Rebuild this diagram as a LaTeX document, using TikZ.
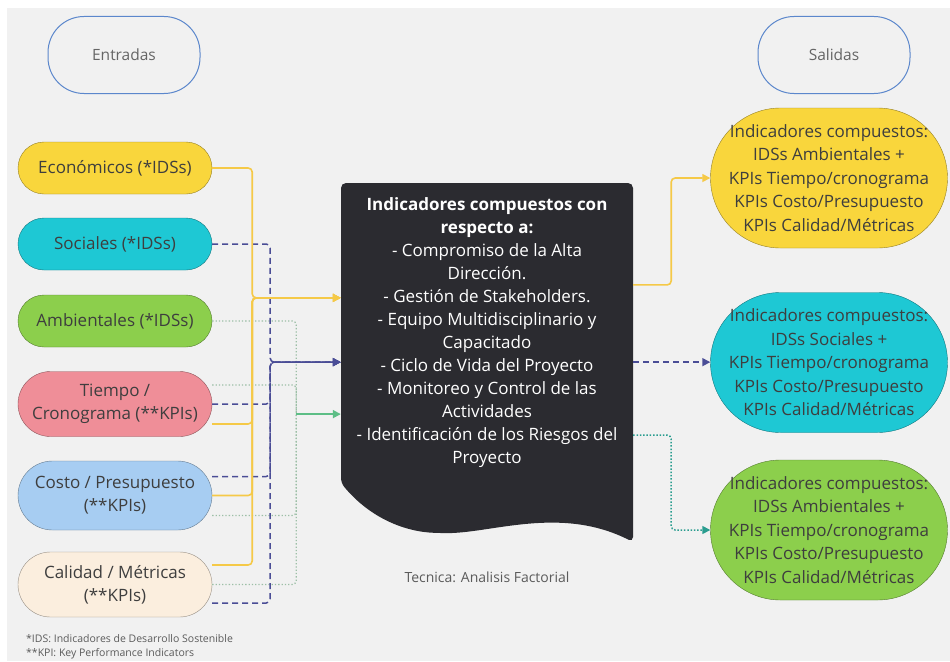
\documentclass[tikz,border=0pt]{standalone}
\usepackage{fontspec}
\setmainfont{Open Sans}
\usetikzlibrary{arrows.meta,calc,positioning}
\definecolor{fondo}{HTML}{F1F1F1}
\definecolor{textoc}{HTML}{3E3E3E}
\definecolor{amarillo}{HTML}{F9D63C}
\definecolor{cian}{HTML}{1EC8D4}
\definecolor{verde}{HTML}{8CCF4C}
\definecolor{rosa}{HTML}{EF8E98}
\definecolor{celeste}{HTML}{A7CDF2}
\definecolor{crema}{HTML}{FBEEDE}
\definecolor{oscuro}{HTML}{2B2B30}
\definecolor{bordeazul}{HTML}{5B87CC}
\definecolor{conamarillo}{HTML}{F5C947}
\definecolor{conazul}{HTML}{4A4D96}
\definecolor{converde}{HTML}{9CBFA6}
\definecolor{flechaverde}{HTML}{5DBE86}
\definecolor{conteal}{HTML}{2A9D8F}
\tikzset{
  entrada/.style n args={2}{draw=#1!60!black,fill=#1,rounded corners=#2,minimum width=194,minimum height=2*#2,
    align=center,text=textoc,font=\fontsize{17}{23}\selectfont},
  salida/.style={draw=#1!60!black,fill=#1,rounded corners=70,minimum width=237,minimum height=140,
    align=center,text=textoc,font=\fontsize{17}{23.5}\selectfont},
  titulo/.style={draw=bordeazul,line width=1,rounded corners=36,minimum width=152,minimum height=77,
    text=textoc!80,font=\fontsize{15.5}{18}\selectfont},
  lineaY/.style={draw=conamarillo,line width=1.6,rounded corners=4,-{Triangle[length=8pt,width=8pt]}},
  lineaB/.style={draw=conazul,line width=1.5,dash pattern=on 6pt off 4pt,rounded corners=4,-{Triangle[length=8pt,width=8pt]}},
  lineaV/.style={draw=converde,line width=1.3,dash pattern=on 1.3pt off 2pt,rounded corners=4},
  lineaT/.style={draw=conteal,line width=1.5,dash pattern=on 1.5pt off 1.8pt,rounded corners=4,-{Triangle[length=8pt,width=8pt]}},
  nota/.style={text=textoc!85,inner sep=0,anchor=west}
}
\begin{document}
\begin{tikzpicture}[x=1pt,y=-1pt]
\useasboundingbox (0,0) rectangle (950,661);
\fill[white] (0,0) rectangle (950,661);\fill[fondo] (7,8) rectangle (950,661);

\node[titulo] (tEnt) at (124,55) {Entradas};
\node[titulo] (tSal) at (834,55) {Salidas};

\node[entrada={amarillo}{26}] (eco) at (115,168) {Económicos (*IDSs)};
\node[entrada={cian}{26}] (soc) at (115,244) {Sociales (*IDSs)};
\node[entrada={verde}{26}] (amb) at (115,321) {Ambientales (*IDSs)};
\node[entrada={rosa}{32.5}] (tie) at (115,404) {Tiempo /\\Cronograma (**KPIs)};
\node[entrada={celeste}{34.5}] (cos) at (115,495.5) {Costo / Presupuesto\\(**KPIs)};
\node[entrada={crema}{32.5}] (cal) at (115,584.5) {Calidad / Métricas\\(**KPIs)};

\fill[oscuro,rounded corners=5] (341,483) -- (341,183) -- (633,183) -- (633,542) .. controls (560,505) and (490,534) .. (440,533) .. controls (405,532) and (370,518) .. (341,483) -- cycle;
\node[minimum width=292,minimum height=300,align=center,text=white,font=\fontsize{17}{23}\selectfont] (centro) at (487,333)
  {\textbf{Indicadores compuestos con}\\\textbf{respecto a:}\\- Compromiso de la Alta\\Dirección.\\- Gestión de Stakeholders.\\
   - Equipo Multidisciplinario y\\Capacitado\\- Ciclo de Vida del Proyecto\\- Monitoreo y Control de las\\Actividades\\
   - Identificación de los Riesgos del\\Proyecto};
\node[text=textoc!85,font=\fontsize{14}{17}\selectfont] (tec) at (487,577) {Tecnica: Analisis Factorial};

\node[salida=amarillo] (sal1) at (829,178) {Indicadores compuestos:\\IDSs Ambientales +\\KPIs Tiempo/cronograma\\KPIs Costo/Presupuesto\\KPIs Calidad/Métricas};
\node[salida=cian] (sal2) at (829,362.5) {Indicadores compuestos:\\IDSs Sociales +\\KPIs Tiempo/cronograma\\KPIs Costo/Presupuesto\\KPIs Calidad/Métricas};
\node[salida=verde] (sal3) at (829,530) {Indicadores compuestos:\\IDSs Ambientales +\\KPIs Tiempo/cronograma\\KPIs Costo/Presupuesto\\KPIs Calidad/Métricas};

\node[nota,font=\fontsize{10.5}{12}\selectfont] (nota1) at (26,639) {*IDS: Indicadores de Desarrollo Sostenible};
\node[nota,font=\fontsize{10.5}{12}\selectfont] (nota2) at (26,654) {**KPI: Key Performance Indicators};

\coordinate (entY) at ($(centro.north west)!0.383!(centro.south west)$);
\coordinate (entB) at ($(centro.north west)!0.597!(centro.south west)$);
\coordinate (entV) at ($(centro.north west)!0.77!(centro.south west)$);
\coordinate (xV) at ($(amb.east)+(84,0)$);\coordinate (nudoV) at (xV |- entV);
\coordinate (salY) at ($(centro.north east)!0.34!(centro.south east)$);
\coordinate (salB) at ($(centro.north east)!0.597!(centro.south east)$);
\coordinate (salV) at ($(centro.north east)!0.84!(centro.south east)$);

\draw[lineaV] (amb.east) -| (nudoV);\draw[lineaV] ([yshift=19pt]tie.east) -| (nudoV);
\draw[lineaV] ([yshift=-20pt]cos.east) -| (nudoV);\draw[lineaV] (cal.east) -| (nudoV);
\draw[draw=flechaverde,line width=1.8,rounded corners=4,-{Triangle[length=8pt,width=8pt]}] (nudoV) -- (entV);

\draw[lineaB] (soc.east) -- ++(58,0) |- (entB);\draw[lineaB] (tie.east) -- ++(58,0) |- (entB);
\draw[lineaB] ([yshift=19pt]cos.east) -- ++(58,0) |- (entB);\draw[lineaB] ([yshift=-18.5pt]cal.east) -- ++(58,0) |- (entB);

\draw[lineaY] (eco.east) -- ++(40,0) |- (entY);\draw[lineaY] ([yshift=-20pt]tie.east) -- ++(40,0) |- (entY);
\draw[lineaY] (cos.east) -- ++(40,0) |- (entY);\draw[lineaY] ([yshift=19.5pt]cal.east) -- ++(40,0) |- (entY);

\draw[lineaY] (salY) -- ++(38,0) |- (sal1.west);
\draw[lineaB] (salB) -- (salB -| sal2.west);
\draw[lineaT] (salV) -- ++(38,0) |- (sal3.west);
\end{tikzpicture}
\end{document}
